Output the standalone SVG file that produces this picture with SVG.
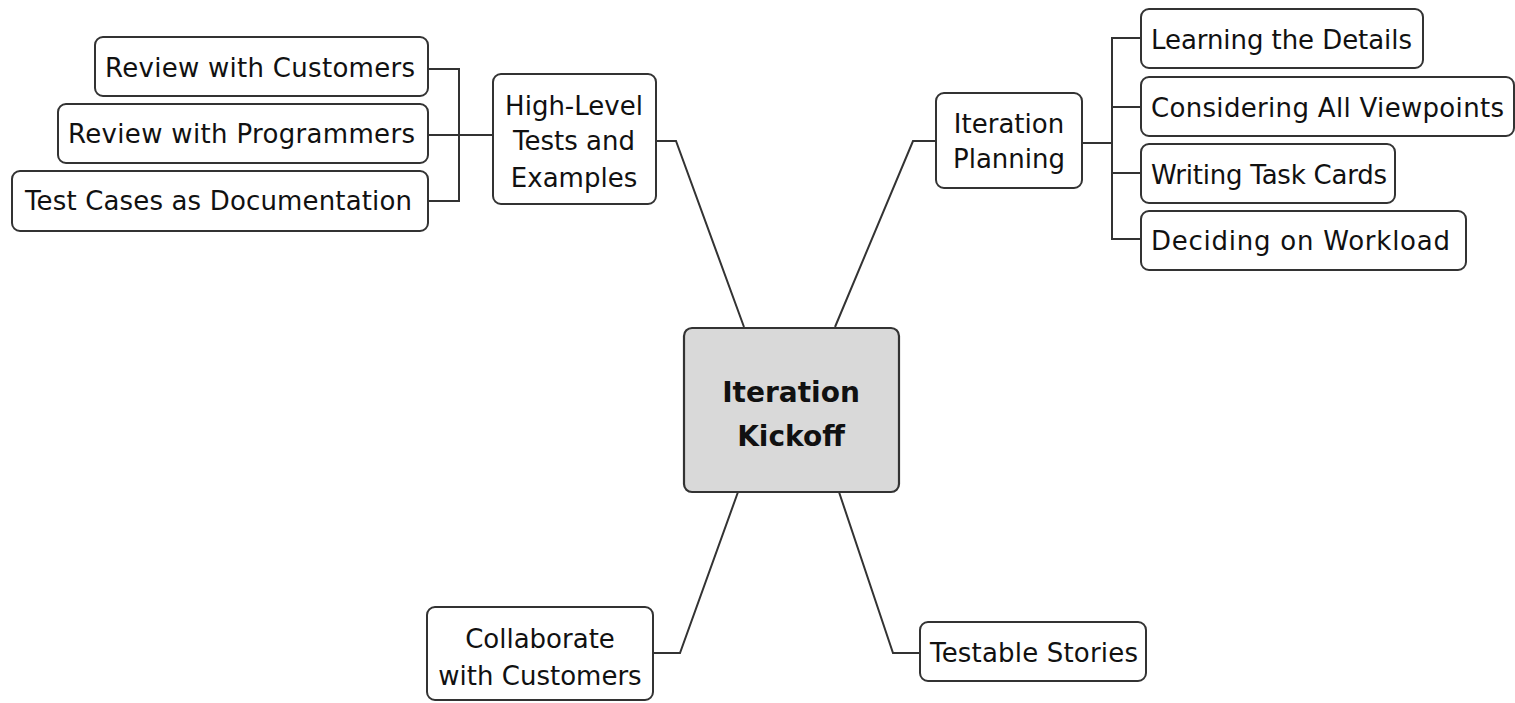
<svg xmlns="http://www.w3.org/2000/svg" width="1515" height="703" viewBox="0 0 1515 703">
<style>
.box{fill:#ffffff;stroke:#333333;stroke-width:2}
.main{fill:#d9d9d9;stroke:#333333;stroke-width:2.2}
.t{font-family:"DejaVu Sans","Liberation Sans",sans-serif;font-size:26px;fill:#111111;text-anchor:middle}
.ts{font-family:"DejaVu Sans","Liberation Sans",sans-serif;font-size:26px;fill:#111111;text-anchor:start}
.tb{font-family:"DejaVu Sans","Liberation Sans",sans-serif;font-size:28px;font-weight:bold;fill:#111111;text-anchor:middle}
.c{fill:none;stroke:#333333;stroke-width:2}
</style>
<rect width="1515" height="703" fill="#ffffff"/>
<g id="connectors">
<polyline class="c" points="656,141 676,141 744,327"/>
<polyline class="c" points="936,141 913,141 835,327"/>
<polyline class="c" points="738,492 680,653 654,653"/>
<polyline class="c" points="839,492 893,653 920,653"/>
<line class="c" x1="459" y1="135" x2="493" y2="135"/>
<polyline class="c" points="428,69 459,69 459,201 428,201"/>
<line class="c" x1="428" y1="135" x2="459" y2="135"/>
<line class="c" x1="1082" y1="143" x2="1112" y2="143"/>
<polyline class="c" points="1141,38 1112,38 1112,239 1141,239"/>
<line class="c" x1="1112" y1="107" x2="1141" y2="107"/>
<line class="c" x1="1112" y1="173" x2="1141" y2="173"/>
</g>
<g id="iteration-kickoff">
<rect class="main" x="684" y="328" width="215" height="164" rx="8"/>
<text class="tb" x="791" y="402">Iteration</text>
<text class="tb" x="791" y="446">Kickoff</text>
</g>
<g id="high-level-tests">
<rect class="box" x="493" y="74" width="163" height="130" rx="8"/>
<text class="t" x="574" y="115">High-Level</text>
<text class="t" x="574" y="150">Tests and</text>
<text class="t" x="574" y="187">Examples</text>
</g>
<g id="review-customers">
<rect class="box" x="95" y="37" width="333" height="59" rx="8"/>
<text class="ts" x="105" y="77" textLength="310">Review with Customers</text>
</g>
<g id="review-programmers">
<rect class="box" x="58" y="104" width="370" height="59" rx="8"/>
<text class="ts" x="68" y="143" textLength="347">Review with Programmers</text>
</g>
<g id="test-cases">
<rect class="box" x="12" y="171" width="416" height="60" rx="8"/>
<text class="ts" x="25" y="210" textLength="387">Test Cases as Documentation</text>
</g>
<g id="iteration-planning">
<rect class="box" x="936" y="93" width="146" height="95" rx="8"/>
<text class="t" x="1009" y="133">Iteration</text>
<text class="t" x="1009" y="168">Planning</text>
</g>
<g id="learning-details">
<rect class="box" x="1141" y="9" width="282" height="59" rx="8"/>
<text class="ts" x="1151" y="49" textLength="261">Learning the Details</text>
</g>
<g id="considering-viewpoints">
<rect class="box" x="1141" y="77" width="373" height="59" rx="8"/>
<text class="ts" x="1151" y="117" textLength="353">Considering All Viewpoints</text>
</g>
<g id="writing-task-cards">
<rect class="box" x="1141" y="144" width="254" height="59" rx="8"/>
<text class="ts" x="1151" y="184" textLength="236">Writing Task Cards</text>
</g>
<g id="deciding-workload">
<rect class="box" x="1141" y="211" width="325" height="59" rx="8"/>
<text class="ts" x="1151" y="250" textLength="299">Deciding on Workload</text>
</g>
<g id="collaborate-customers">
<rect class="box" x="427" y="607" width="226" height="93" rx="8"/>
<text class="t" x="540" y="648">Collaborate</text>
<text class="t" x="540" y="685">with Customers</text>
</g>
<g id="testable-stories">
<rect class="box" x="920" y="622" width="226" height="59" rx="8"/>
<text class="ts" x="930" y="662" textLength="208">Testable Stories</text>
</g>
</svg>
